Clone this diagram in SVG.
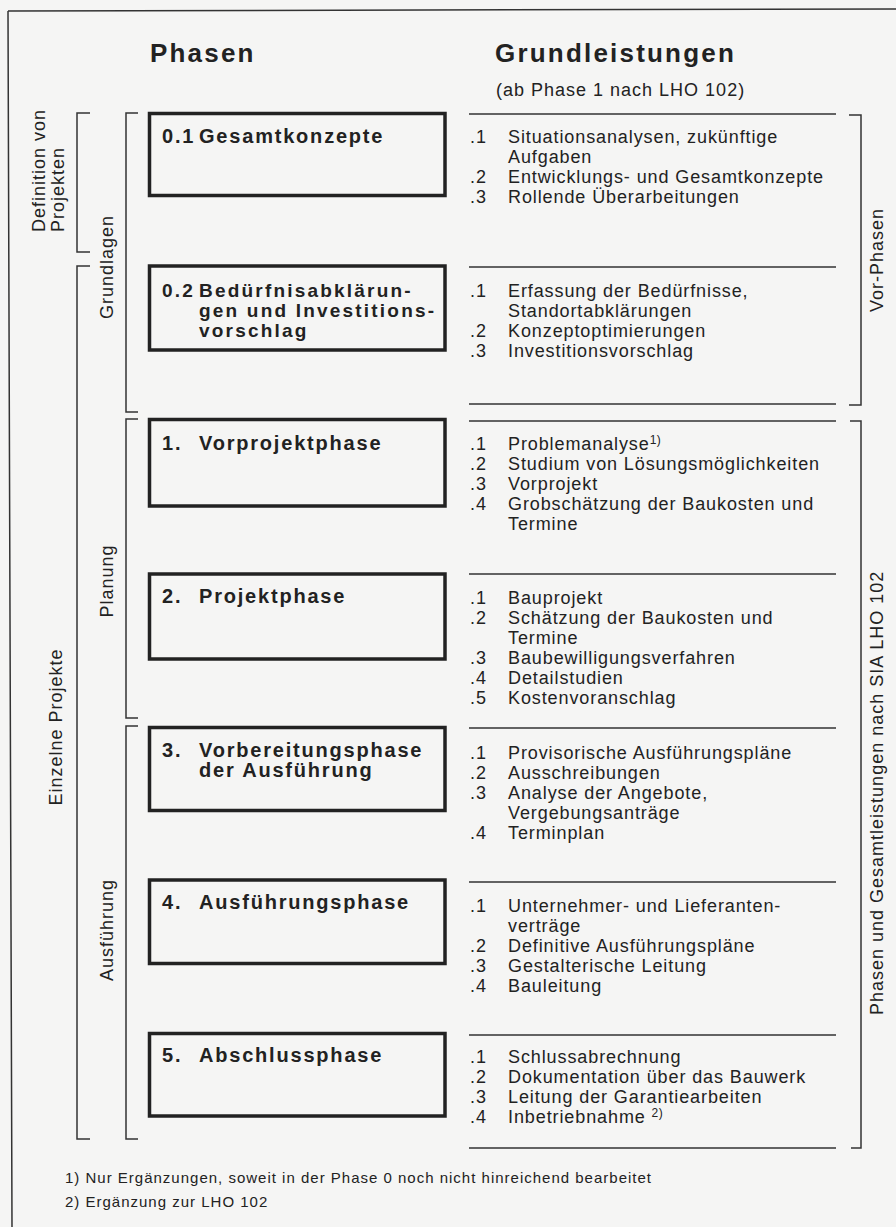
<svg xmlns="http://www.w3.org/2000/svg" width="896" height="1227" viewBox="0 0 896 1227">
<style>
.t{font-family:"Liberation Sans",Arial,Helvetica,sans-serif;fill:#222}
.h{font-size:26px;font-weight:bold;letter-spacing:2.2px}
.sub{font-size:18px;letter-spacing:1px}
.bt{font-size:20px;font-weight:bold;letter-spacing:1.8px}
.bt2{font-size:19px;font-weight:bold;letter-spacing:2.2px}
.it{font-size:18px;letter-spacing:0.9px}
.sup{font-size:12px;letter-spacing:0.5px}
.lb{font-size:18px;letter-spacing:1px}
.fn{font-size:15px;letter-spacing:1px}
.box{fill:none;stroke:#222;stroke-width:3.5}
.ln{fill:none;stroke:#333;stroke-width:1.5}
</style>
<rect x="0" y="0" width="896" height="1227" fill="#f5f5f4"/>
<g id="frame">
<path class="ln" d="M8,11 L896,9 M8,11 L12,1227"/>
</g>
<g id="header">
<text class="t h" x="150" y="62">Phasen</text>
<text class="t h" x="495" y="62">Grundleistungen</text>
<text class="t sub" x="496" y="96">(ab Phase 1 nach LHO 102)</text>
</g>
<g id="connectors">
<path class="ln" d="M90,113 H77 V252 H90"/>
<path class="ln" d="M90,266 H77 V1139 H90"/>
<path class="ln" d="M138,113 H126 V412 H138"/>
<path class="ln" d="M138,419 H126 V718 H138"/>
<path class="ln" d="M138,726 H126 V1139 H138"/>
<path class="ln" d="M849,115 H861 V405 H849"/>
<path class="ln" d="M850,421 H861 V1148 H851"/>
<path class="ln" d="M469,114 H836 M469,267 H836 M469,404 H836 M469,421 H836 M469,574 H836 M469,728 H836 M469,882 H836 M469,1035 H836 M469,1148 H836"/>
</g>
<g id="label-definition">
<text class="t lb" transform="translate(45,232) rotate(-90)">Definition von</text>
<text class="t lb" transform="translate(64,232) rotate(-90)">Projekten</text>
</g>
<g id="label-einzelne">
<text class="t lb" text-anchor="middle" transform="translate(62,727) rotate(-90)">Einzelne Projekte</text>
</g>
<g id="label-grundlagen">
<text class="t lb" text-anchor="middle" transform="translate(113,267) rotate(-90)">Grundlagen</text>
</g>
<g id="label-planung">
<text class="t lb" text-anchor="middle" transform="translate(113,581) rotate(-90)">Planung</text>
</g>
<g id="label-ausfuehrung">
<text class="t lb" text-anchor="middle" transform="translate(113,930) rotate(-90)">Ausführung</text>
</g>
<g id="label-vorphasen">
<text class="t lb" text-anchor="middle" transform="translate(883,260) rotate(-90)">Vor-Phasen</text>
</g>
<g id="label-sia">
<text class="t lb" transform="translate(883,1015) rotate(-90)">Phasen und Gesamtleistungen nach SIA LHO 102</text>
</g>
<g id="phase-01">
<rect class="box" x="149.5" y="113.5" width="295.5" height="82"/>
<text class="t bt" x="162" y="143">0.1</text>
<text class="t bt" x="199" y="143">Gesamtkonzepte</text>
<text class="t it" x="470" y="143">.1</text><text class="t it" x="508" y="143">Situationsanalysen, zukünftige</text>
<text class="t it" x="508" y="163">Aufgaben</text>
<text class="t it" x="470" y="183">.2</text><text class="t it" x="508" y="183">Entwicklungs- und Gesamtkonzepte</text>
<text class="t it" x="470" y="203">.3</text><text class="t it" x="508" y="203">Rollende Überarbeitungen</text>
</g>
<g id="phase-02">
<rect class="box" x="149.5" y="266" width="295.5" height="84"/>
<text class="t bt2" x="162" y="297">0.2</text>
<text class="t bt2" x="199" y="297">Bedürfnisabklärun-</text>
<text class="t bt2" x="199" y="317">gen und Investitions-</text>
<text class="t bt2" x="199" y="337">vorschlag</text>
<text class="t it" x="470" y="297">.1</text><text class="t it" x="508" y="297">Erfassung der Bedürfnisse,</text>
<text class="t it" x="508" y="317">Standortabklärungen</text>
<text class="t it" x="470" y="337">.2</text><text class="t it" x="508" y="337">Konzeptoptimierungen</text>
<text class="t it" x="470" y="357">.3</text><text class="t it" x="508" y="357">Investitionsvorschlag</text>
</g>
<g id="phase-1">
<rect class="box" x="149.5" y="419.5" width="295.5" height="86.5"/>
<text class="t bt" x="162" y="450">1.</text>
<text class="t bt" x="199" y="450">Vorprojektphase</text>
<text class="t it" x="470" y="450">.1</text><text class="t it" x="508" y="450">Problemanalyse<tspan class="sup" dy="-6">1)</tspan></text>
<text class="t it" x="470" y="470">.2</text><text class="t it" x="508" y="470">Studium von Lösungsmöglichkeiten</text>
<text class="t it" x="470" y="490">.3</text><text class="t it" x="508" y="490">Vorprojekt</text>
<text class="t it" x="470" y="510">.4</text><text class="t it" x="508" y="510">Grobschätzung der Baukosten und</text>
<text class="t it" x="508" y="530">Termine</text>
</g>
<g id="phase-2">
<rect class="box" x="149.5" y="574" width="295.5" height="85"/>
<text class="t bt" x="162" y="603">2.</text>
<text class="t bt" x="199" y="603">Projektphase</text>
<text class="t it" x="470" y="604">.1</text><text class="t it" x="508" y="604">Bauprojekt</text>
<text class="t it" x="470" y="624">.2</text><text class="t it" x="508" y="624">Schätzung der Baukosten und</text>
<text class="t it" x="508" y="644">Termine</text>
<text class="t it" x="470" y="664">.3</text><text class="t it" x="508" y="664">Baubewilligungsverfahren</text>
<text class="t it" x="470" y="684">.4</text><text class="t it" x="508" y="684">Detailstudien</text>
<text class="t it" x="470" y="704">.5</text><text class="t it" x="508" y="704">Kostenvoranschlag</text>
</g>
<g id="phase-3">
<rect class="box" x="149.5" y="727.5" width="295.5" height="83"/>
<text class="t bt" x="162" y="757">3.</text>
<text class="t bt" x="199" y="757">Vorbereitungsphase</text>
<text class="t bt" x="199" y="777">der Ausführung</text>
<text class="t it" x="470" y="759">.1</text><text class="t it" x="508" y="759">Provisorische Ausführungspläne</text>
<text class="t it" x="470" y="779">.2</text><text class="t it" x="508" y="779">Ausschreibungen</text>
<text class="t it" x="470" y="799">.3</text><text class="t it" x="508" y="799">Analyse der Angebote,</text>
<text class="t it" x="508" y="819">Vergebungsanträge</text>
<text class="t it" x="470" y="839">.4</text><text class="t it" x="508" y="839">Terminplan</text>
</g>
<g id="phase-4">
<rect class="box" x="149.5" y="880" width="295.5" height="83.5"/>
<text class="t bt" x="162" y="909">4.</text>
<text class="t bt" x="199" y="909">Ausführungsphase</text>
<text class="t it" x="470" y="912">.1</text><text class="t it" x="508" y="912">Unternehmer- und Lieferanten-</text>
<text class="t it" x="508" y="932">verträge</text>
<text class="t it" x="470" y="952">.2</text><text class="t it" x="508" y="952">Definitive Ausführungspläne</text>
<text class="t it" x="470" y="972">.3</text><text class="t it" x="508" y="972">Gestalterische Leitung</text>
<text class="t it" x="470" y="992">.4</text><text class="t it" x="508" y="992">Bauleitung</text>
</g>
<g id="phase-5">
<rect class="box" x="149.5" y="1033.5" width="295.5" height="82.5"/>
<text class="t bt" x="162" y="1062">5.</text>
<text class="t bt" x="199" y="1062">Abschlussphase</text>
<text class="t it" x="470" y="1063">.1</text><text class="t it" x="508" y="1063">Schlussabrechnung</text>
<text class="t it" x="470" y="1083">.2</text><text class="t it" x="508" y="1083">Dokumentation über das Bauwerk</text>
<text class="t it" x="470" y="1103">.3</text><text class="t it" x="508" y="1103">Leitung der Garantiearbeiten</text>
<text class="t it" x="470" y="1123">.4</text><text class="t it" x="508" y="1123">Inbetriebnahme <tspan class="sup" dy="-6">2)</tspan></text>
</g>
<g id="footnotes">
<text class="t fn" x="65" y="1183">1) Nur Ergänzungen, soweit in der Phase 0 noch nicht hinreichend bearbeitet</text>
<text class="t fn" x="65" y="1207">2) Ergänzung zur LHO 102</text>
</g>
</svg>
